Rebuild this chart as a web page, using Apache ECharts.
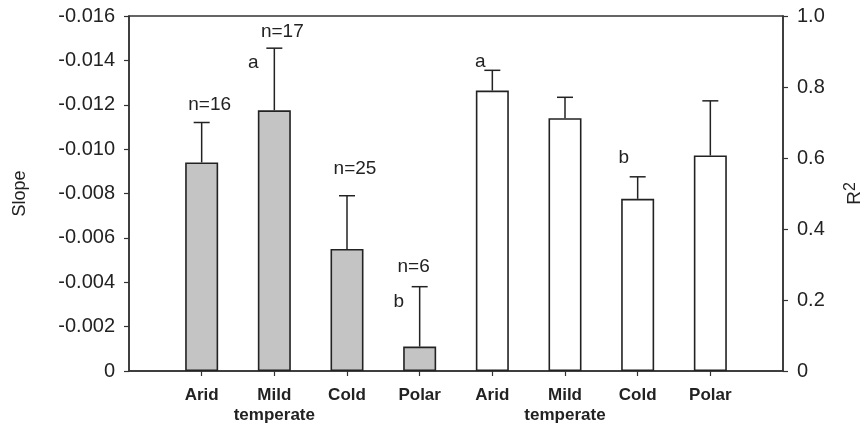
<!DOCTYPE html>
<html>
<head>
<meta charset="utf-8">
<script src="https://cdn.jsdelivr.net/npm/echarts@6/dist/echarts.min.js"></script>
<style>html,body{margin:0;padding:0;background:#fff;}#c{width:861px;height:425px;}</style>
</head>
<body>
<div id="c"></div>
<script>
const categories = ['Arid', 'Mild\ntemperate', 'Cold', 'Polar'];
const slopeMean = [-0.0094, -0.01175, -0.0055, -0.0011];
const slopeErrTop = [-0.0112, -0.01455, -0.0079, -0.0038];
const r2Mean = [0.79, 0.712, 0.485, 0.607];
const r2ErrTop = [0.847, 0.771, 0.547, 0.761];
const sampleSizes = ['n=16', 'n=17', 'n=25', 'n=6'];
const sampleLabelY = [-0.0120, -0.0153, -0.0091, -0.0047];
const slopeLetters = ['', 'a', '', 'b'];
const slopeLetterY = [null, -0.0139, null, -0.0031];
const r2Letters = ['a', '', 'b', ''];
const r2LetterY = [0.870, null, 0.600, null];

// presentation offsets (pixels)
const sampleDx = [8, 8, 8, -6];
const slopeLetterDx = [0, -21, 0, -21];
const r2LetterDx = [-12, 0, -14, 0];

const FONT = 'Liberation Sans, Arial, sans-serif';
const INK = '#222';
const xData = [''].concat(categories, categories, ['']);
const nCat = categories.length;

const grayBars = [null].concat(slopeMean, new Array(nCat + 1).fill(null));
const whiteBars = new Array(nCat + 1).fill(null).concat(r2Mean, [null]);

const slopeErr = slopeMean.map((v, i) => [i + 1, v, slopeErrTop[i]]);
const r2Err = r2Mean.map((v, i) => [i + 1 + nCat, v, r2ErrTop[i]]);

function errRender(params, api) {
  const x = api.value(0), lo = api.value(1), hi = api.value(2);
  const p0 = api.coord([x, lo]);
  const p1 = api.coord([x, hi]);
  const cap = 8;
  const st = { stroke: INK, lineWidth: 1.5 };
  return {
    type: 'group',
    children: [
      { type: 'line', shape: { x1: p0[0], y1: p0[1], x2: p1[0], y2: p1[1] }, style: st },
      { type: 'line', shape: { x1: p1[0] - cap, y1: p1[1], x2: p1[0] + cap, y2: p1[1] }, style: st }
    ]
  };
}

function textSeries(yAxisIndex, xs, ys, texts, dxs) {
  const data = [];
  texts.forEach((t, i) => { if (t && ys[i] != null) data.push([xs[i], ys[i], i]); });
  return {
    type: 'custom', xAxisIndex: 0, yAxisIndex: yAxisIndex, silent: true, z: 10,
    data: data,
    renderItem: function (params, api) {
      const i = api.value(2);
      const p = api.coord([api.value(0), api.value(1)]);
      return {
        type: 'text',
        style: {
          text: texts[i], x: p[0] + dxs[i], y: p[1],
          textAlign: 'center', textVerticalAlign: 'middle',
          fontSize: 19, fontFamily: FONT, fill: INK
        }
      };
    }
  };
}

const chart = echarts.init(document.getElementById('c'), null, { renderer: 'canvas' });
chart.setOption({
  animation: false,
  backgroundColor: '#fff',
  grid: { left: 129, right: 78, top: 16, bottom: 54, outerBoundsMode: 'none', containLabel: false,
    show: true, borderColor: '#333', borderWidth: 1.5, backgroundColor: 'transparent' },
  xAxis: {
    type: 'category', data: xData, boundaryGap: false,
    axisLine: { onZero: false, lineStyle: { color: '#333', width: 1.5 } },
    axisTick: { length: 5, interval: (i) => i > 0 && i < xData.length - 1, lineStyle: { color: '#333', width: 1.2 } },
    axisLabel: { interval: 0, margin: 14, fontSize: 17, fontWeight: 'bold', color: INK, fontFamily: FONT, lineHeight: 20 },
    splitLine: { show: false }
  },
  yAxis: [
    {
      type: 'value', inverse: true, min: -0.016, max: 0, interval: 0.002, position: 'left',
      name: 'Slope', nameLocation: 'middle', nameGap: 100,
      nameTextStyle: { fontSize: 18, color: INK, fontFamily: FONT },
      axisLine: { show: true, lineStyle: { color: '#333', width: 1.5 } },
      axisTick: { show: true, length: 5, lineStyle: { color: '#333', width: 1.2 } },
      axisLabel: { fontSize: 20, color: INK, fontFamily: FONT, margin: 14,
        formatter: (v) => Math.abs(v) < 1e-9 ? '0' : v.toFixed(3) },
      splitLine: { show: false }
    },
    {
      type: 'value', min: 0, max: 1, interval: 0.2, position: 'right',
      name: '{r|R}{s|2}', nameLocation: 'middle', nameGap: 60, nameRotate: 90,
      nameTextStyle: { fontSize: 18, color: INK, fontFamily: FONT,
        rich: { r: { fontSize: 19, fontFamily: FONT, color: INK }, s: { fontSize: 16, fontFamily: FONT, color: INK, padding: [0, 0, 8, 0] } } },
      axisLine: { show: true, lineStyle: { color: '#333', width: 1.5 } },
      axisTick: { show: true, length: 5, lineStyle: { color: '#333', width: 1.2 } },
      axisLabel: { fontSize: 20, color: INK, fontFamily: FONT, margin: 14,
        formatter: (v) => Math.abs(v) < 1e-9 ? '0' : v.toFixed(1) },
      splitLine: { show: false }
    }
  ],
  series: [
    { type: 'bar', yAxisIndex: 0, data: grayBars, barWidth: 33, barGap: '-100%',
      itemStyle: { color: '#c4c4c4', borderColor: INK, borderWidth: 1.6 } },
    { type: 'bar', yAxisIndex: 1, data: whiteBars, barWidth: 33, barGap: '-100%',
      itemStyle: { color: '#ffffff', borderColor: INK, borderWidth: 1.6 } },
    { type: 'custom', yAxisIndex: 0, data: slopeErr, renderItem: errRender, z: 5, silent: true },
    { type: 'custom', yAxisIndex: 1, data: r2Err, renderItem: errRender, z: 5, silent: true },
    textSeries(0, categories.map((c, i) => i + 1), sampleLabelY, sampleSizes, sampleDx),
    textSeries(0, categories.map((c, i) => i + 1), slopeLetterY, slopeLetters, slopeLetterDx),
    textSeries(1, categories.map((c, i) => i + 1 + nCat), r2LetterY, r2Letters, r2LetterDx)
  ]
});
</script>
</body>
</html>
